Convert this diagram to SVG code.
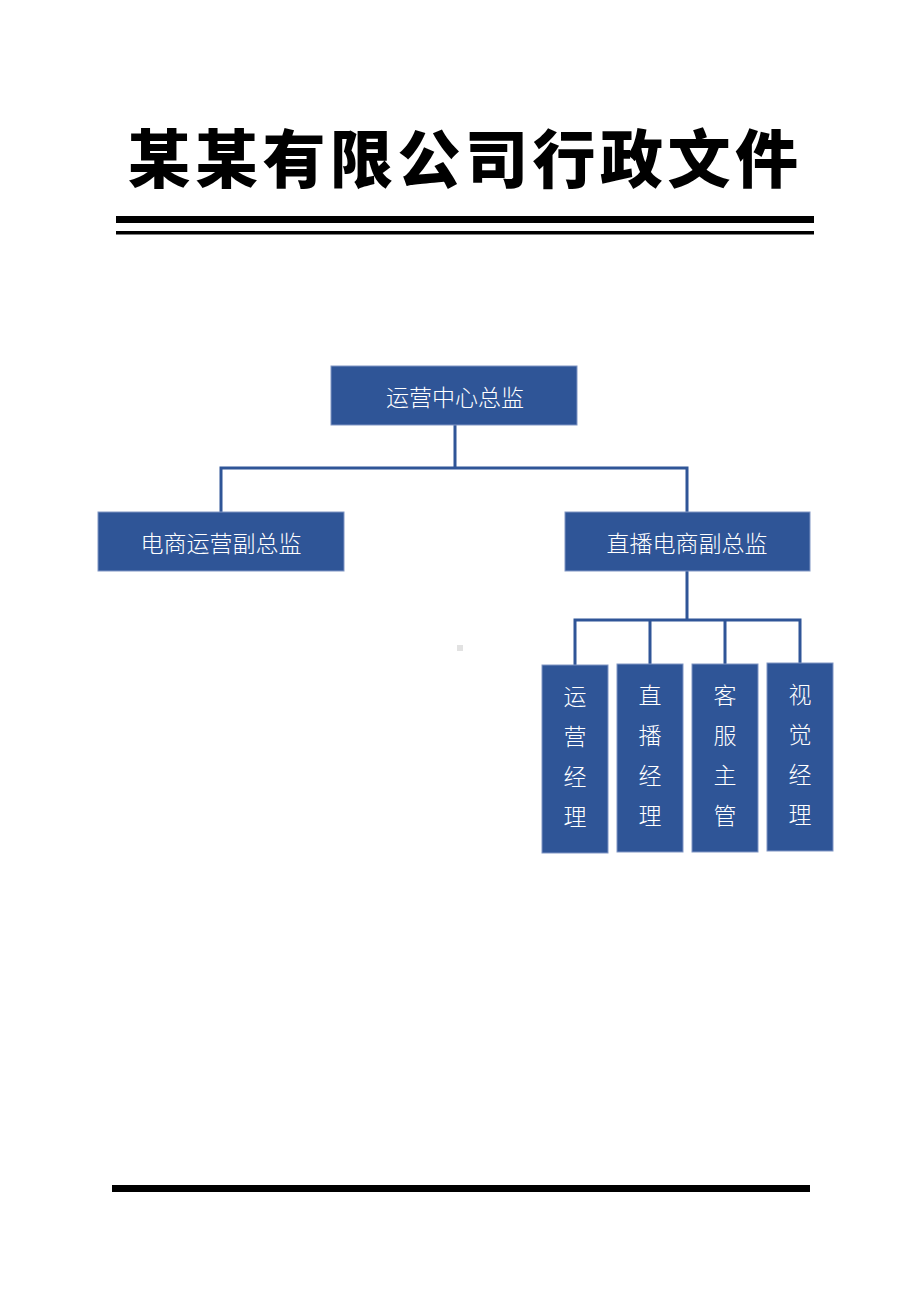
<svg xmlns="http://www.w3.org/2000/svg" width="920" height="1302" viewBox="0 0 920 1302">
<style>
.node{fill:#2F5597;stroke:#8096c4;stroke-width:1}
.lbl{fill:#ffffff;font-family:"Noto Sans CJK SC","Noto Sans",sans-serif;font-size:23px;font-weight:300;text-anchor:middle;dominant-baseline:central}
.conn{fill:none;stroke:#2F5597;stroke-width:3}
.title{fill:#000;font-family:"Noto Sans CJK SC","Noto Sans",sans-serif;font-size:63px;font-weight:900;text-anchor:middle}
</style>
<rect width="920" height="1302" fill="#ffffff"/>
<text class="title" x="465" y="182" letter-spacing="4.5">某某有限公司行政文件</text>
<rect x="116" y="216" width="698" height="7" fill="#000"/>
<rect x="116" y="231" width="698" height="3.5" fill="#000"/>
<rect x="112" y="1185" width="698" height="7" fill="#000"/>
<rect x="457" y="645" width="6" height="6" fill="#e2e2e2"/>
<g id="connectors">
<path class="conn" d="M455 425V468M221 468H687M221 466.5V512M687 466.5V512"/>
<path class="conn" d="M687 571V620M575 620H800M575 618.5V665M650 618.5V664M725 618.5V664M800 618.5V663"/>
</g>
<g id="n-top"><rect class="node" x="331" y="366" width="246" height="59"/><text class="lbl" x="455" y="396">运营中心总监</text></g>
<g id="n-left"><rect class="node" x="98" y="512" width="246" height="59"/><text class="lbl" x="221" y="542">电商运营副总监</text></g>
<g id="n-right"><rect class="node" x="565" y="512" width="245" height="59"/><text class="lbl" x="687" y="542">直播电商副总监</text></g>
<g id="n-op"><rect class="node" x="542" y="665" width="66" height="188"/>
<text class="lbl" x="575" y="695">运</text><text class="lbl" x="575" y="735">营</text><text class="lbl" x="575" y="775">经</text><text class="lbl" x="575" y="815">理</text></g>
<g id="n-live"><rect class="node" x="617" y="664" width="66" height="188"/>
<text class="lbl" x="650" y="694">直</text><text class="lbl" x="650" y="734">播</text><text class="lbl" x="650" y="774">经</text><text class="lbl" x="650" y="814">理</text></g>
<g id="n-cs"><rect class="node" x="692" y="664" width="66" height="188"/>
<text class="lbl" x="725" y="694">客</text><text class="lbl" x="725" y="734">服</text><text class="lbl" x="725" y="774">主</text><text class="lbl" x="725" y="814">管</text></g>
<g id="n-vis"><rect class="node" x="767" y="663" width="66" height="188"/>
<text class="lbl" x="800" y="693">视</text><text class="lbl" x="800" y="733">觉</text><text class="lbl" x="800" y="773">经</text><text class="lbl" x="800" y="813">理</text></g>
</svg>
